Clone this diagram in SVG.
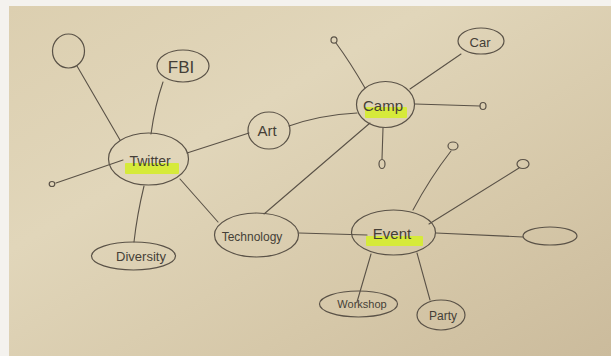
<svg xmlns="http://www.w3.org/2000/svg" width="611" height="356" viewBox="0 0 611 356">
<defs>
<linearGradient id="paper" x1="0" y1="0" x2="1" y2="1">
<stop offset="0" stop-color="#dccfb0"/>
<stop offset="0.35" stop-color="#e1d6ba"/>
<stop offset="0.7" stop-color="#d6c8a9"/>
<stop offset="1" stop-color="#cbbb9c"/>
</linearGradient>
<style>
.n{fill:none;stroke:#5a5247;stroke-width:1.2}
.c{fill:none;stroke:#5a5247;stroke-width:1.1;stroke-linecap:round}
.hl{fill:#d6ea3a}
.t{font-family:"Liberation Sans","DejaVu Sans",sans-serif;fill:#453f37;text-anchor:middle}
</style>
</defs>
<rect width="611" height="356" fill="#f4f2ee"/>
<rect x="9" y="6" width="602" height="350" fill="url(#paper)"/>
<g id="connectors">
<path class="c" d="M120,140 L77,66"/>
<path class="c" d="M151,134 Q155,105 163,82"/>
<path class="c" d="M123,160 L56,183"/>
<path class="c" d="M187,153 L249,133"/>
<path class="c" d="M144,186 Q137,215 134,242"/>
<path class="c" d="M180,179 L218,222"/>
<path class="c" d="M289,126 Q320,115 357,113"/>
<path class="c" d="M365,88 Q350,62 336,43"/>
<path class="c" d="M410,89 L461,54"/>
<path class="c" d="M415,104 L480,106"/>
<path class="c" d="M383,128 L382,159"/>
<path class="c" d="M370,123 L264,214"/>
<path class="c" d="M299,233 L367,235"/>
<path class="c" d="M413,210 Q430,178 451,151"/>
<path class="c" d="M429,224 L519,168"/>
<path class="c" d="M436,233 Q480,235 523,237"/>
<path class="c" d="M371,254 L357,302"/>
<path class="c" d="M417,253 L430,300"/>
</g>
<g id="twitter">
<ellipse class="n" cx="148.5" cy="159" rx="40" ry="26"/>
<rect class="hl" x="125" y="163" width="54" height="11" rx="1"/>
<text class="t" x="150" y="166" font-size="14">Twitter</text>
</g>
<g id="empty-top-left">
<ellipse class="n" cx="68.5" cy="51" rx="16" ry="17"/>
</g>
<g id="fbi">
<ellipse class="n" cx="183" cy="66" rx="26" ry="16"/>
<text class="t" x="181" y="73" font-size="17">FBI</text>
</g>
<g id="dot-left">
<ellipse class="n" cx="52" cy="184" rx="2.8" ry="2.5"/>
</g>
<g id="diversity">
<ellipse class="n" cx="133.5" cy="256" rx="42" ry="14"/>
<text class="t" x="141" y="261" font-size="13">Diversity</text>
</g>
<g id="art">
<ellipse class="n" cx="269" cy="130.5" rx="21" ry="18.5"/>
<text class="t" x="267" y="136" font-size="15">Art</text>
</g>
<g id="camp">
<ellipse class="n" cx="385.5" cy="104.5" rx="29" ry="23"/>
<rect class="hl" x="365" y="107" width="42" height="11" rx="1"/>
<text class="t" x="383" y="111" font-size="15">Camp</text>
</g>
<g id="dot-camp-top">
<ellipse class="n" cx="334" cy="40" rx="3" ry="3.2"/>
</g>
<g id="car">
<ellipse class="n" cx="481" cy="41" rx="23" ry="13"/>
<text class="t" x="480" y="47" font-size="13">Car</text>
</g>
<g id="dot-camp-right">
<ellipse class="n" cx="483" cy="106" rx="3" ry="3.5"/>
</g>
<g id="dot-camp-bottom">
<ellipse class="n" cx="382" cy="164" rx="3" ry="4.5"/>
</g>
<g id="technology">
<ellipse class="n" cx="256.5" cy="235" rx="42" ry="22"/>
<text class="t" x="252" y="241" font-size="12">Technology</text>
</g>
<g id="event">
<ellipse class="n" cx="393.5" cy="232.5" rx="42" ry="22.5"/>
<rect class="hl" x="366" y="236" width="57" height="10" rx="1"/>
<text class="t" x="392" y="239" font-size="15">Event</text>
</g>
<g id="dot-event-top">
<ellipse class="n" cx="453" cy="146" rx="5" ry="4"/>
</g>
<g id="dot-event-right">
<ellipse class="n" cx="523" cy="164" rx="6" ry="4.5"/>
</g>
<g id="empty-event-right">
<ellipse class="n" cx="550" cy="236" rx="27" ry="9"/>
</g>
<g id="workshop">
<ellipse class="n" cx="358.5" cy="304" rx="39" ry="13"/>
<text class="t" x="362" y="308" font-size="11">Workshop</text>
</g>
<g id="party">
<ellipse class="n" cx="441" cy="315" rx="24" ry="15"/>
<text class="t" x="443" y="320" font-size="12">Party</text>
</g>
</svg>
